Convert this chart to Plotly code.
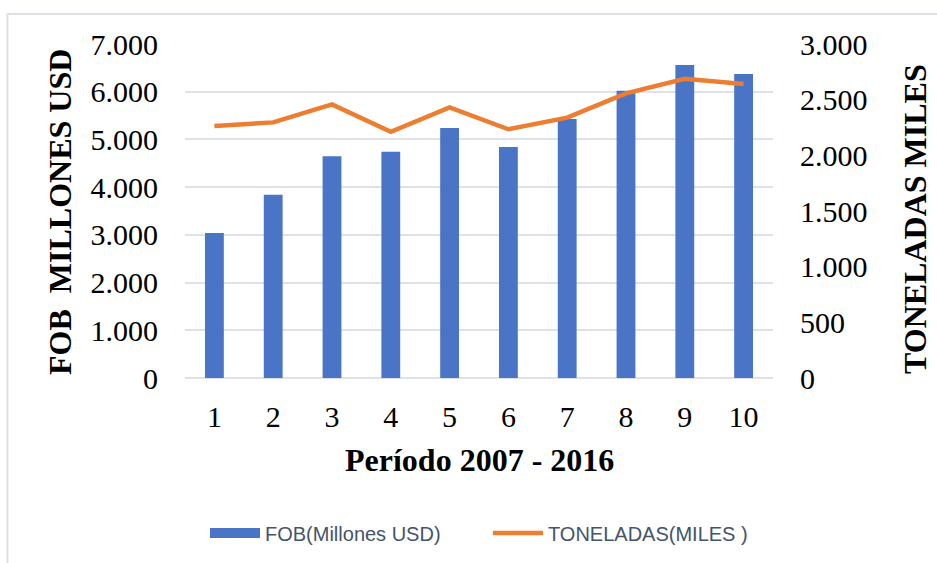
import plotly.graph_objects as go

periodos = [1, 2, 3, 4, 5, 6, 7, 8, 9, 10]
fob_millones = [3040, 3840, 4650, 4740, 5240, 4840, 5430, 6020, 6560, 6370]
toneladas_miles = [2263, 2296, 2458, 2212, 2431, 2234, 2338, 2557, 2688, 2641]

left_ticks = [0, 1000, 2000, 3000, 4000, 5000, 6000, 7000]
right_ticks = [0, 500, 1000, 1500, 2000, 2500, 3000]

serif = "Liberation Serif, Times New Roman, serif"
grid = "#DEE2E8"
bar_color = "#4A74C6"

fig = go.Figure()
fig.add_trace(go.Bar(
    x=periodos, y=fob_millones, name="FOB(Millones USD)",
    marker=dict(color=bar_color, line=dict(width=0)),
    yaxis="y", showlegend=False,
))
# legend entry for the bars, drawn as a wide block like the original
fig.add_trace(go.Scatter(
    x=[None], y=[None], name="FOB(Millones USD)", mode="lines",
    line=dict(color=bar_color, width=13), yaxis="y",
))
fig.add_trace(go.Scatter(
    x=periodos, y=toneladas_miles, name="TONELADAS(MILES )",
    mode="lines", line=dict(color="#ED7D31", width=4.5),
    yaxis="y2",
))

fig.update_layout(
    width=937, height=563,
    margin=dict(l=185, r=164, t=44, b=185, autoexpand=False),
    paper_bgcolor="white", plot_bgcolor="white",
    separators=",.",
    bargap=0.68,
    showlegend=True,
    legend=dict(orientation="h", x=0.034, xanchor="left", y=-0.464, yanchor="middle",
                font=dict(family="Liberation Sans, Arial, sans-serif", size=20, color="#44546A"),
                itemwidth=50, entrywidth=218, entrywidthmode="pixels"),
    xaxis=dict(
        tickmode="array", tickvals=periodos, ticktext=[str(p) for p in periodos],
        range=[0.5, 10.5], showgrid=False, showline=False, zeroline=False,
        ticks="", ticklabelstandoff=18,
        tickfont=dict(family=serif, size=30, color="black"),
    ),
    yaxis=dict(
        range=[0, 7000], tickvals=left_ticks, tickformat=",d",
        showgrid=True, gridcolor=grid, gridwidth=1.5,
        zeroline=True, zerolinecolor=grid, zerolinewidth=1.5,
        showline=False, ticks="", ticklabelstandoff=26,
        tickfont=dict(family=serif, size=30, color="black"),
    ),
    yaxis2=dict(
        range=[0, 3000], tickvals=right_ticks, tickformat=",d",
        overlaying="y", side="right", showgrid=False, zeroline=False,
        showline=False, ticks="", ticklabelstandoff=26,
        tickfont=dict(family=serif, size=30, color="black"),
    ),
    annotations=[
        dict(text="<b>Período 2007 - 2016</b>", xref="paper", yref="paper",
             x=0.5, y=-0.2455, xanchor="center", yanchor="middle", showarrow=False,
             font=dict(family=serif, size=32, color="black")),
        dict(text="<b>FOB  MILLONES USD</b>", xref="paper", yref="paper",
             x=-0.2126, y=0.497, xanchor="center", yanchor="middle", showarrow=False,
             textangle=-90, font=dict(family=serif, size=32, color="black")),
        dict(text="<b>TONELADAS MILES</b>", xref="paper", yref="paper",
             x=1.2415, y=0.476, xanchor="center", yanchor="middle", showarrow=False,
             textangle=-90, font=dict(family=serif, size=32, color="black")),
    ],
    shapes=[
        dict(type="rect", xref="paper", yref="paper",
             x0=-0.302, x1=1.5, y0=-1.0, y1=1.0898,
             line=dict(color="#DDE1E6", width=2), fillcolor="rgba(0,0,0,0)", layer="below"),
    ],
)

fig.write_html("out.html", config={"displayModeBar": False},
               post_script="document.body.style.margin='0px';document.body.style.overflow='hidden';")
